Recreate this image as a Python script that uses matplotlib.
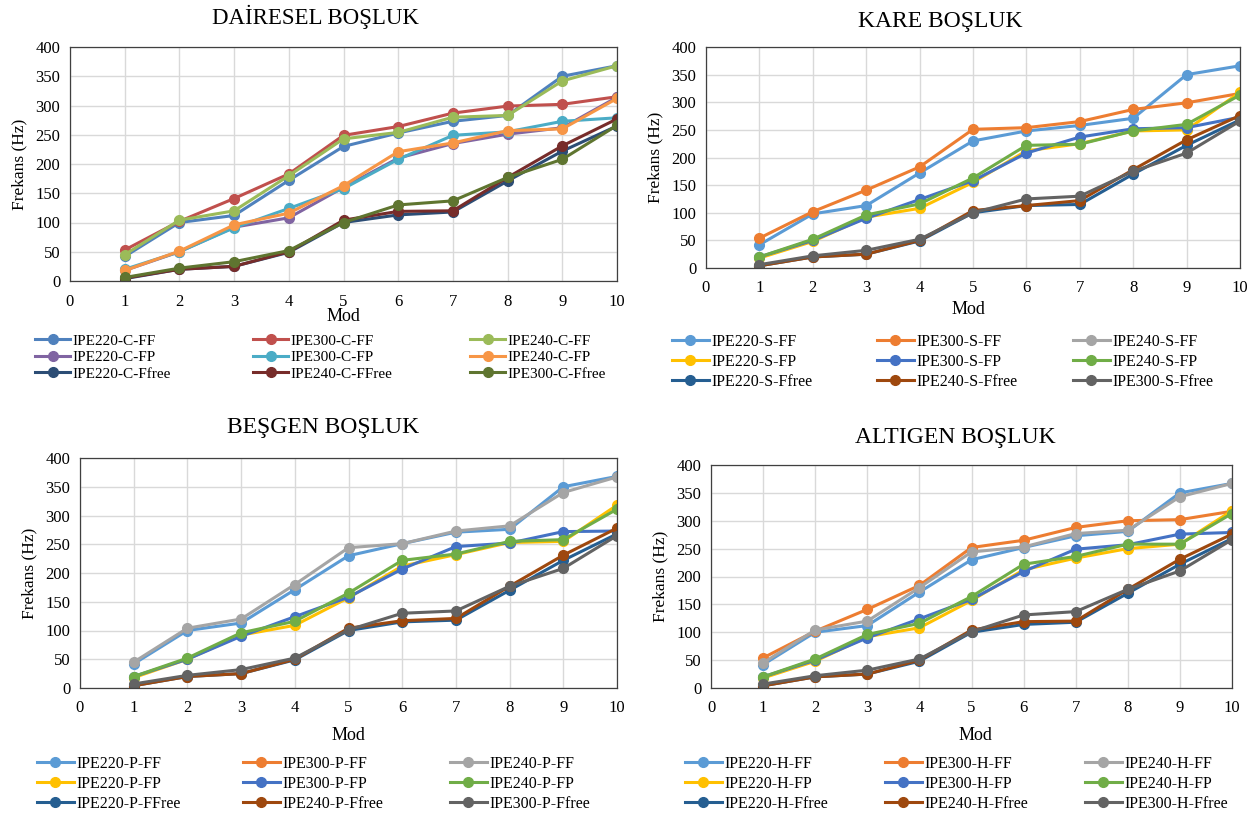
import matplotlib
matplotlib.use("Agg")
import matplotlib.pyplot as plt

plt.rcParams['font.family'] = ['Liberation Serif', 'DejaVu Serif']

mod = [1, 2, 3, 4, 5, 6, 7, 8, 9, 10]

# DAİRESEL (C)
c_220_ff = [42, 100, 112, 172, 230, 253, 273, 283, 350, 368]
c_300_ff = [53, 102, 141, 183, 249, 264, 287, 299, 302, 315]
c_240_ff = [45, 104, 120, 180, 243, 254, 280, 283, 342, 368]
c_220_fp = [18, 50, 92, 108, 160, 210, 235, 251, 262, 314]
c_300_fp = [20, 50, 91, 124, 158, 208, 249, 255, 273, 279]
c_240_fp = [18, 51, 96, 116, 163, 221, 236, 257, 260, 312]
c_220_free = [4, 20, 25, 49, 100, 113, 118, 171, 222, 265]
c_240_free = [5, 20, 25, 50, 104, 119, 120, 177, 231, 277]
c_300_free = [6, 22, 33, 52, 100, 130, 137, 177, 208, 266]

# KARE (S)
s_220_ff = [42, 98, 113, 172, 230, 248, 258, 271, 350, 366]
s_300_ff = [54, 102, 141, 183, 251, 254, 265, 287, 299, 316]
s_240_ff = []  # not visible in the chart
s_220_fp = [18, 48, 92, 108, 155, 212, 225, 248, 250, 318]
s_300_fp = [20, 50, 90, 124, 158, 208, 237, 252, 254, 273]
s_240_fp = [20, 52, 96, 116, 163, 222, 224, 248, 260, 313]
s_220_free = [4, 20, 25, 49, 100, 113, 115, 170, 222, 268]
s_240_free = [4, 20, 25, 50, 104, 113, 122, 178, 232, 276]
s_300_free = [6, 22, 32, 52, 100, 125, 130, 175, 208, 266]

# BEŞGEN (P)
p_220_ff = [42, 100, 113, 171, 230, 251, 271, 276, 350, 368]
p_300_ff = []  # not visible in the chart
p_240_ff = [45, 104, 120, 180, 244, 251, 273, 282, 340, 367]
p_220_fp = [18, 50, 92, 109, 157, 212, 232, 253, 255, 318]
p_300_fp = [20, 50, 90, 124, 158, 207, 246, 252, 272, 273]
p_240_fp = [20, 52, 96, 116, 165, 222, 233, 255, 258, 311]
p_220_free = [4, 20, 25, 49, 100, 115, 118, 170, 222, 268]
p_240_free = [4, 20, 25, 50, 104, 117, 121, 177, 231, 278]
p_300_free = [7, 22, 32, 52, 101, 130, 134, 177, 208, 265]

# ALTIGEN (H)
h_220_ff = [42, 100, 112, 172, 230, 252, 273, 281, 350, 367]
h_300_ff = [54, 102, 141, 184, 252, 265, 288, 300, 302, 317]
h_240_ff = [45, 104, 120, 180, 244, 253, 277, 283, 343, 367]
h_220_fp = [18, 48, 92, 108, 157, 212, 233, 250, 258, 318]
h_300_fp = [20, 50, 90, 124, 159, 209, 249, 257, 276, 279]
h_240_fp = [20, 52, 96, 116, 164, 222, 236, 258, 258, 313]
h_220_free = [4, 20, 25, 48, 100, 114, 118, 170, 222, 268]
h_240_free = [4, 20, 25, 50, 104, 119, 120, 177, 231, 276]
h_300_free = [7, 22, 32, 52, 101, 131, 137, 177, 210, 266]

c_labels = ['IPE220-C-FF', 'IPE300-C-FF', 'IPE240-C-FF',
            'IPE220-C-FP', 'IPE300-C-FP', 'IPE240-C-FP',
            'IPE220-C-Ffree', 'IPE240-C-FFree', 'IPE300-C-Ffree']
s_labels = ['IPE220-S-FF', 'IPE300-S-FF', 'IPE240-S-FF',
            'IPE220-S-FP', 'IPE300-S-FP', 'IPE240-S-FP',
            'IPE220-S-Ffree', 'IPE240-S-Ffree', 'IPE300-S-Ffree']
p_labels = ['IPE220-P-FF', 'IPE300-P-FF', 'IPE240-P-FF',
            'IPE220-P-FP', 'IPE300-P-FP', 'IPE240-P-FP',
            'IPE220-P-FFree', 'IPE240-P-Ffree', 'IPE300-P-Ffree']
h_labels = ['IPE220-H-FF', 'IPE300-H-FF', 'IPE240-H-FF',
            'IPE220-H-FP', 'IPE300-H-FP', 'IPE240-H-FP',
            'IPE220-H-Ffree', 'IPE240-H-Ffree', 'IPE300-H-Ffree']

colors_2010 = ['#4F81BD', '#C0504D', '#9BBB59', '#8064A2', '#4BACC6',
               '#F79646', '#2C4D75', '#772C2A', '#5F7530']
colors_2013 = ['#5B9BD5', '#ED7D31', '#A5A5A5', '#FFC000', '#4472C4',
               '#70AD47', '#255E91', '#9E480E', '#636363']

W, H = 1250, 816
fig = plt.figure(figsize=(W / 100, H / 100), dpi=100)


def px(x, y):
    return x / W, 1 - y / H


def panel(box, title, title_xy, mod_xy, series, labels, colors,
          leg_x, leg_y, leg_space, leg_fs=11.5, title_fs=17):
    l, t, r, b = box
    ax = fig.add_axes([l / W, 1 - b / H, (r - l) / W, (b - t) / H])
    handles = []
    for vals, lab, col in zip(series, labels, colors):
        xs = mod[:len(vals)]
        h, = ax.plot(xs, vals, color=col, lw=2.2, marker='o', ms=7,
                     label=lab)
        handles.append(h)
    ax.set_xlim(0, 10)
    ax.set_ylim(0, 400)
    ax.set_xticks(range(0, 11))
    ax.set_yticks(range(0, 401, 50))
    ax.grid(True, color='#D9D9D9', lw=1)
    ax.set_axisbelow(True)
    for s in ax.spines.values():
        s.set_color('#404040')
        s.set_linewidth(0.9)
    ax.tick_params(length=0, labelsize=12)
    ax.tick_params(axis='x', pad=9)
    ax.tick_params(axis='y', pad=7)
    ax.set_ylabel('Frekans (Hz)', fontsize=12.5, labelpad=6)
    fig.text(*px(*title_xy), title, fontsize=title_fs, ha='center',
             va='center')
    fig.text(*px(*mod_xy), 'Mod', fontsize=13, ha='center', va='center')
    for c in range(3):
        hs = handles[c::3]
        fig.legend(hs, [h.get_label() for h in hs], loc='upper left',
                   bbox_to_anchor=px(leg_x[c], leg_y), frameon=False,
                   fontsize=leg_fs, borderpad=0, borderaxespad=0,
                   handlelength=2.3, handletextpad=0.15,
                   labelspacing=leg_space)
    return ax


panel((70, 47, 617, 281), 'DAİRESEL BOŞLUK', (315, 17), (343, 317),
      [c_220_ff, c_300_ff, c_240_ff, c_220_fp, c_300_fp, c_240_fp,
       c_220_free, c_240_free, c_300_free],
      c_labels, colors_2010, (35, 253, 470), 334, 0.18, leg_fs=11,
      title_fs=16.5)

panel((706, 47, 1240, 268), 'KARE BOŞLUK', (940, 22), (968, 310),
      [s_220_ff, s_300_ff, s_240_ff, s_220_fp, s_300_fp, s_240_fp,
       s_220_free, s_240_free, s_300_free],
      s_labels, colors_2013, (672, 877, 1073), 334, 0.25)

panel((80, 458, 617, 688), 'BEŞGEN BOŞLUK', (323, 428), (348, 735),
      [p_220_ff, p_300_ff, p_240_ff, p_220_fp, p_300_fp, p_240_fp,
       p_220_free, p_240_free, p_300_free],
      p_labels, colors_2013, (37, 243, 450), 756, 0.25)

panel((711, 465, 1232, 688), 'ALTIGEN BOŞLUK', (955, 438), (975, 735),
      [h_220_ff, h_300_ff, h_240_ff, h_220_fp, h_300_fp, h_240_fp,
       h_220_free, h_240_free, h_300_free],
      h_labels, colors_2013, (685, 885, 1085), 756, 0.25)

fig.savefig('out.png', dpi=100)
